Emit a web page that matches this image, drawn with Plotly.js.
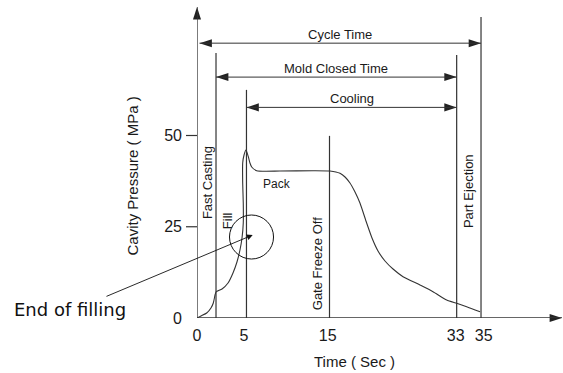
<!DOCTYPE html>
<html><head><meta charset="utf-8">
<script src="https://cdn.plot.ly/plotly-3.0.1.min.js"></script>
<style>html,body{margin:0;padding:0;background:#fff;} #chart{width:563px;height:373px;}</style>
</head><body><div id="chart"></div>
<script>
// Schematic (not-to-scale) time axis: positions along the drawn axis and their printed labels
const tickPositions = [0, 4.85, 13.47, 26.67, 29.56];
const tickLabels = ['0', '5', '15', '33', '35'];
const yTickVals = [0, 25, 50];

// Cavity pressure curve (MPa) vs schematic time position
const curveTime = [0, 0.41, 1.0, 1.44, 1.68, 1.86, 1.96, 2.58, 3.2, 3.71, 4.12, 4.43, 4.64, 4.77, 4.77, 4.71, 4.71, 4.85, 5.05, 5.29, 5.46, 5.64, 6.15, 8.56, 11.96, 13.71, 14.74, 15.26, 15.77, 16.29, 16.8, 17.49, 18.04, 18.66, 19.38, 20.21, 21.24, 22.99, 24.33, 25.74, 26.77, 27.8, 29.18];
const curvePressure = [0, 0.55, 1.37, 2.74, 4.11, 6.3, 7.12, 7.95, 9.59, 12.33, 15.34, 18.63, 21.92, 26.03, 31.51, 36.99, 42.47, 44.66, 46.03, 44.19, 42.47, 41.37, 40.36, 40.27, 40.36, 40.27, 39.64, 38.63, 36.99, 34.52, 31.51, 26.03, 21.92, 18.36, 15.62, 13.42, 11.32, 9.04, 7.21, 4.93, 4.03, 3.1, 1.73];

// Event lines: position on time axis and top height
const eventPos = [1.96, 5.10, 13.66, 26.77, 29.28];
const eventTop = [72.6, 62.5, 49.9, 72.05, 82.5];

// Time spans (double-headed dimension arrows)
const spanNames = ['Cycle Time', 'Mold Closed Time', 'Cooling'];
const spanStart = [0.26, 1.96, 5.10];
const spanEnd = [29.28, 26.77, 26.77];
const spanLevel = [75.3, 66.0, 57.7];

// Phase labels
const phaseNames = ['Fast Casting', 'Fill', 'Pack', 'Gate Freeze Off', 'Part Ejection'];
const phaseX = [1.08, 3.09, 8.22, 12.5, 27.97];
const phaseY = [37.1, 26.8, 36.7, 14.8, 34.85];
const phaseAngle = [-90, -90, 0, -90, -90];
const phaseSize = [13, 13, 12, 13, 13];

// Axis arrow tips
const xAxisEnd = 37.63;
const yAxisEnd = 85.2;

// End-of-filling callout
const fillEndX = 5.62, fillEndY = 22.19;
const fillArrowX = 5.74, fillArrowY = 22.74;

const LINE = '#333';
const TXT = '#1a1a1a';
const SANS = 'Liberation Sans, Arial, sans-serif';

const shapes = [];
// axis lines
shapes.push({type:'line', xref:'x', yref:'y', x0:0, x1:xAxisEnd, y0:0, y1:0, line:{color:LINE, width:1.3}});
shapes.push({type:'line', xref:'x', yref:'y', x0:0, x1:0, y0:0, y1:yAxisEnd, line:{color:LINE, width:1.3}});
// y tick marks (none drawn at the origin)
yTickVals.filter(v => v > 0).forEach(v => shapes.push({type:'line', xref:'paper', yref:'y', xsizemode:'pixel', xanchor:0, x0:-11, x1:0, y0:v, y1:v, line:{color:LINE, width:1.2}}));
// event lines
eventPos.forEach((p, i) => shapes.push({type:'line', xref:'x', yref:'y', x0:p, x1:p, y0:0, y1:eventTop[i], line:{color:LINE, width:1.2}}));
// span lines
spanNames.forEach((n, i) => shapes.push({type:'line', xref:'x', yref:'y', x0:spanStart[i], x1:spanEnd[i], y0:spanLevel[i], y1:spanLevel[i], line:{color:LINE, width:1}}));
// callout circle (radius ~22px)
shapes.push({type:'circle', xref:'x', yref:'y', x0:fillEndX-2.27, x1:fillEndX+2.27, y0:fillEndY-6.03, y1:fillEndY+6.03, line:{color:'#111', width:1}});

// arrowheads
const headX = [xAxisEnd, 0], headY = [0, yAxisEnd], headA = [90, 0];
spanNames.forEach((n, i) => {
  headX.push(spanStart[i]); headY.push(spanLevel[i]); headA.push(-90);
  headX.push(spanEnd[i]); headY.push(spanLevel[i]); headA.push(90);
});

const traces = [
  {x: curveTime, y: curvePressure, type:'scatter', mode:'lines', line:{color:LINE, width:1.1, shape:'spline', smoothing:0.6}, hoverinfo:'skip', showlegend:false},
  {x: headX, y: headY, type:'scatter', mode:'markers', cliponaxis:false, marker:{symbol:'arrow', size:13, angle:headA, color:'#222', line:{width:0}}, hoverinfo:'skip', showlegend:false}
];

const annotations = [];
spanNames.forEach((n, i) => annotations.push({text:n, x:(spanStart[i]+spanEnd[i])/2, y:spanLevel[i], xref:'x', yref:'y', yshift:9, showarrow:false, xanchor:'center', yanchor:'middle', font:{family:SANS, size:13, color:TXT}}));
phaseNames.forEach((n, i) => annotations.push({text:n, x:phaseX[i], y:phaseY[i], xref:'x', yref:'y', textangle:phaseAngle[i], showarrow:false, xanchor:'center', yanchor:'middle', font:{family:SANS, size:phaseSize[i], color:TXT}}));
// callout arrow
annotations.push({text:'', x:fillArrowX, y:fillArrowY, xref:'x', yref:'y', axref:'pixel', ayref:'pixel', ax:-147.7, ay:62, showarrow:true, arrowhead:2, arrowsize:1.3, arrowwidth:0.9, arrowcolor:'#111', standoff:0});
annotations.push({text:'End of filling', xref:'paper', yref:'paper', x:-0.347, y:0.0272, xanchor:'center', yanchor:'middle', showarrow:false, font:{family:'DejaVu Sans, Verdana, sans-serif', size:18, color:'#111'}});
// axis titles
annotations.push({text:'Cavity Pressure ( MPa )', xref:'paper', yref:'paper', x:-0.1762, y:0.4537, xanchor:'center', yanchor:'middle', textangle:-90, showarrow:false, font:{family:SANS, size:15, color:TXT}});
annotations.push({text:'Time ( Sec )', xref:'paper', yref:'paper', x:0.4303, y:-0.1396, xanchor:'center', yanchor:'middle', showarrow:false, font:{family:SANS, size:15, color:TXT}});

const layout = {
  width:563, height:373,
  margin:{l:197, r:0, t:5, b:55},
  paper_bgcolor:'#fff', plot_bgcolor:'#fff',
  showlegend:false,
  xaxis:{range:[0, 366/9.7], fixedrange:true, showgrid:false, zeroline:false, showline:false,
         tickmode:'array', tickvals:tickPositions, ticktext:tickLabels, ticks:'',
         ticklabelstandoff:6, tickfont:{family:SANS, size:16, color:TXT}},
  yaxis:{range:[0, 313/3.65], fixedrange:true, showgrid:false, zeroline:false, showline:false,
         tickmode:'array', tickvals:yTickVals, ticks:'',
         ticklabelstandoff:14, tickfont:{family:SANS, size:16, color:TXT}},
  shapes: shapes,
  annotations: annotations
};

Plotly.newPlot('chart', traces, layout, {staticPlot:true, displayModeBar:false});
</script>
</body></html>
